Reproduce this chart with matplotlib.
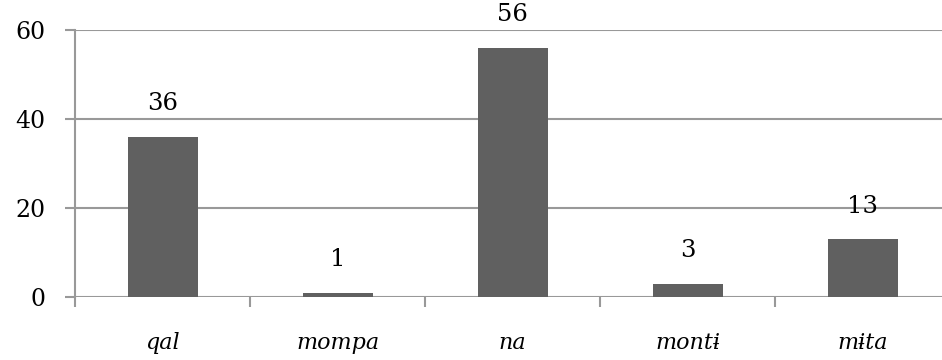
import matplotlib
matplotlib.use("Agg")
import matplotlib.pyplot as plt
from matplotlib.transforms import offset_copy

categories = ["qal", "mompa", "na", "montɨ", "mɨta"]
counts = [36, 1, 56, 3, 13]
y_ticks = [0, 20, 40, 60]

bar_color = "#606060"
grid_color = "#999999"
font = "DejaVu Serif"

fig = plt.figure(figsize=(9.42, 3.6), dpi=100)
# axes run a little past the right edge of the figure
ax = fig.add_axes([75 / 942, 63 / 360, 875 / 942, 267 / 360])

x = list(range(len(categories)))
ax.bar(x, counts, width=0.4, color=bar_color, zorder=3)

ax.set_xlim(-0.5, len(categories) - 0.5)
ax.set_ylim(0, 60)
ax.set_yticks(y_ticks)
ax.set_yticklabels([str(v) for v in y_ticks], fontfamily=font, fontsize=17)

# gridlines
for v in y_ticks:
    ax.axhline(v, color=grid_color, lw=1.5, zorder=1)

ax.set_xticks([i + 0.5 for i in range(-1, len(categories))], minor=False)
ax.set_xticklabels([""] * (len(categories) + 1))
ax.set_xticks(x, minor=True)
ax.set_xticklabels(categories, minor=True, fontfamily=font, fontstyle="italic", fontsize=16)
ax.tick_params(axis="x", which="major", length=7.5, width=1.5, color=grid_color)
ax.tick_params(axis="x", which="minor", length=0, pad=25)
ax.tick_params(axis="y", length=7.5, width=1.5, color=grid_color, pad=14)

for side in ["top", "right", "bottom"]:
    ax.spines[side].set_visible(False)
ax.spines["left"].set_color(grid_color)
ax.spines["left"].set_linewidth(1.5)

for xi, v in zip(x, counts):
    tr = offset_copy(ax.transData, fig=fig, x=0, y=33, units="dots")
    ax.text(xi, v, str(v), transform=tr, ha="center", va="center",
            fontfamily=font, fontsize=17.5, zorder=4)

fig.savefig("out.png", dpi=100)
